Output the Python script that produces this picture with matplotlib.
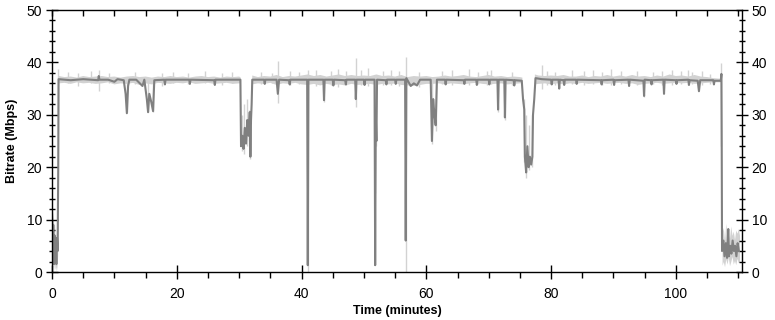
import numpy as np
import matplotlib
matplotlib.use("Agg")
import matplotlib.pyplot as plt
from matplotlib.ticker import MultipleLocator

# dark trace: (minutes, Mbps) breakpoints
line_t = [0.0, 0.1, 0.2, 0.3, 0.4, 0.5, 0.6, 0.7, 0.8, 0.9, 1.0, 1.05,
          3.0, 5.0, 7.4, 7.5, 7.6, 9.0, 10.0, 10.5, 11.5, 11.8, 12.0, 12.2, 12.4,
          13.5, 14.5, 14.8, 15.2, 15.4, 15.6, 15.9, 16.2, 16.4,
          18.0, 18.1, 18.2, 22.0, 22.1, 22.2, 26.0, 26.1, 26.2, 30.2,
          30.3, 30.5, 30.7, 30.9, 31.1, 31.3, 31.5, 31.7, 31.8, 31.9, 32.0, 32.1,
          34.0, 34.1, 34.2, 36.0, 36.2, 36.4, 38.0, 38.1, 38.2, 40.9, 41.0, 41.1,
          43.5, 43.6, 43.7, 45.0, 45.1, 45.2, 47.0, 47.1, 47.2, 48.6, 48.7, 48.8,
          50.0, 50.1, 50.2, 51.7, 51.8, 51.9, 52.0, 52.1, 53.5, 53.6, 53.7,
          55.0, 55.1, 55.2, 56.6, 56.7, 56.8, 57.5, 58.0, 58.5, 59.0,
          60.7, 60.9, 61.1, 61.3, 61.5, 61.7, 63.0, 63.1, 63.2, 66.0, 66.1, 66.2,
          68.0, 68.1, 68.2, 70.0, 70.1, 70.2, 71.4, 71.5, 71.6, 72.5, 72.6, 72.7,
          74.0, 74.1, 74.2, 75.3, 75.5, 75.7, 75.8, 76.0, 76.2, 76.4, 76.6, 76.8,
          77.0, 77.1, 77.3, 77.5, 78.5, 80.0, 80.1, 80.2, 81.2, 81.3, 81.4,
          82.0, 82.1, 82.2, 84.0, 84.1, 84.2, 88.0, 88.1, 88.2, 90.0, 90.1, 90.2,
          92.4, 92.5, 92.6, 94.8, 94.9, 95.0, 96.0, 96.1, 96.2, 98.0, 98.1, 98.2,
          100.0, 100.1, 100.2, 102.0, 102.1, 102.2, 103.5, 103.7, 103.9,
          106.0, 106.1, 106.2, 107.2, 107.3, 107.35, 107.4,
          107.6, 107.8, 108.0, 108.2, 108.4, 108.5, 108.7, 108.9, 109.1, 109.3,
          109.5, 109.7, 109.9, 110.1]
line_v = [11.5, 3.0, 9.0, 1.5, 7.0, 2.0, 5.5, 1.5, 6.5, 4.0, 20.0, 36.8,
          36.6, 36.8, 36.6, 37.4, 36.7, 36.7, 36.3, 36.8, 36.6, 34.0, 30.3, 35.5, 36.7,
          36.7, 35.5, 36.7, 33.0, 30.5, 34.0, 32.5, 30.7, 36.6,
          36.7, 35.8, 36.7, 36.7, 35.9, 36.7, 36.6, 35.7, 36.7, 36.7,
          24.0, 26.0, 23.5, 27.5, 24.5, 29.0, 26.0, 30.5, 22.0, 29.0, 32.0, 36.7,
          36.7, 35.9, 36.7, 36.7, 34.0, 36.7, 36.6, 35.8, 36.7, 36.7, 1.3, 36.7,
          36.7, 32.8, 36.7, 36.7, 35.6, 36.7, 36.6, 35.8, 36.7, 36.7, 33.0, 36.7,
          36.7, 35.7, 36.7, 36.7, 1.3, 30.0, 25.0, 36.7, 36.6, 35.8, 36.7,
          36.7, 35.9, 36.7, 36.7, 6.0, 37.0, 35.5, 36.0, 35.6, 36.7,
          36.7, 25.0, 33.0, 30.0, 28.0, 36.7, 36.7, 35.8, 36.7, 36.6, 35.9, 36.7,
          36.7, 35.7, 36.7, 36.7, 35.8, 36.7, 36.7, 31.0, 36.7, 36.7, 29.5, 36.7,
          36.6, 35.6, 36.6, 36.5, 33.0, 31.0, 22.0, 19.0, 24.0, 20.0, 22.0, 20.5,
          22.0, 30.0, 33.0, 37.0, 36.8, 36.7, 35.8, 36.7, 36.7, 35.0, 36.7,
          36.6, 35.7, 36.7, 36.7, 35.9, 36.7, 36.6, 35.8, 36.6, 36.7, 35.7, 36.6,
          36.7, 35.5, 36.7, 36.5, 33.6, 36.7, 36.6, 35.8, 36.6, 36.7, 34.0, 36.7,
          36.6, 35.9, 36.6, 36.7, 35.7, 36.6, 36.5, 34.5, 36.6,
          36.6, 35.8, 36.5, 36.5, 37.8, 24.0, 4.0,
          6.0, 3.0, 5.5, 2.7, 8.2, 3.0, 5.0, 3.5, 6.0, 4.0,
          5.0, 3.0, 5.5, 4.0]

# light band (spread of the raw samples) around the steady level
band_t = [1.1, 2, 3, 4, 5, 6, 7, 8, 9, 10,
          11, 12, 13, 14, 15, 16, 17, 18, 19, 20,
          21, 22, 23, 24, 25, 26, 27, 28, 29, 30, 30.25, 31,
          32.1, 33, 34, 35, 36, 37, 38, 39, 40,
          41, 42, 43, 44, 45, 46, 47, 48, 49, 50,
          51, 52, 53, 54, 55, 56, 57, 58, 59, 60,
          61, 62, 63, 64, 65, 66, 67, 68, 69, 70,
          71, 72, 73, 74, 75, 75.4, 76,
          77.4, 78, 79, 80,
          81, 82, 83, 84, 85, 86, 87, 88, 89, 90,
          91, 92, 93, 94, 95, 96, 97, 98, 99, 100,
          101, 102, 103, 104, 105, 106, 107, 107.25]
band_hi = [37.4, 37.2, 37.3, 37.1, 37.4, 37.2, 37.3, 37.4, 37.2, 37.3,
           37.1, 37.3, 37.4, 37.2, 37.3, 37.1, 37.3, 37.2, 37.4, 37.2,
           37.3, 37.1, 37.3, 37.4, 37.2, 37.3, 37.1, 37.3, 37.2, 37.3, 37.1, np.nan,
           37.5, 37.2, 37.4, 37.3, 37.6, 37.2, 37.4, 37.3, 37.5,
           37.7, 37.4, 37.6, 37.3, 37.5, 37.7, 37.4, 37.6, 37.4, 37.5,
           37.4, 37.7, 37.4, 37.5, 37.3, 37.6, 37.2, 37.4, 37.3, 37.4,
           37.2, 37.3, 37.5, 37.3, 37.4, 37.6, 37.3, 37.2, 37.4, 37.6,
           37.3, 37.4, 37.2, 37.3, 37.2, 37.1, np.nan,
           37.7, 37.5, 37.4, 37.5,
           37.4, 37.6, 37.3, 37.3, 37.5, 37.2, 37.4, 37.3, 37.6, 37.3,
           37.5, 37.3, 37.6, 37.3, 37.4, 37.2, 37.5, 37.3, 37.7, 37.4,
           37.5, 37.3, 37.6, 37.3, 37.2, 37.0, 36.9, 36.9]
band_lo = [36.0, 36.1, 35.9, 36.2, 36.0, 36.1, 35.9, 36.0, 36.2, 35.8,
           36.0, 35.9, 36.1, 35.7, 36.0, 35.8, 36.1, 36.0, 35.9, 36.1,
           36.0, 36.2, 35.9, 36.0, 36.1, 35.9, 36.0, 36.1, 35.9, 36.0, 36.0, np.nan,
           35.8, 36.0, 35.9, 36.1, 35.7, 36.0, 35.9, 36.1, 35.8,
           35.7, 35.9, 35.6, 35.9, 35.7, 35.8, 35.6, 35.9, 35.7, 35.8,
           35.9, 35.7, 35.9, 35.8, 36.0, 35.7, 35.6, 35.5, 35.7, 35.9,
           35.9, 36.0, 35.8, 36.0, 35.9, 35.8, 36.0, 36.1, 35.9, 35.8,
           35.9, 36.0, 35.8, 35.9, 36.0, 36.1, np.nan,
           35.8, 35.9, 36.0, 35.8,
           36.0, 35.8, 36.0, 35.9, 36.1, 35.9, 36.0, 36.1, 35.9, 36.0,
           36.1, 35.9, 36.0, 35.7, 35.9, 36.0, 36.1, 35.9, 36.0, 36.1,
           36.0, 36.1, 35.9, 36.0, 36.1, 36.2, 36.2, 36.2]

# light band at the start and at the end (low bitrate stretches)
start_t = [0.0, 0.1, 0.2, 0.3, 0.4, 0.5, 0.6, 0.7, 0.8, 0.9, 1.0]
start_hi = [12.8, 10.0, 11.5, 8.0, 9.5, 6.0, 7.5, 5.0, 8.0, 12.0, 30.0]
start_lo = [4.0, 0.5, 3.0, 0.3, 2.0, 0.5, 1.0, 0.2, 1.0, 3.0, 8.0]

end_t = [107.4, 107.6, 107.8, 108.0, 108.2, 108.4, 108.6, 108.8, 109.0,
         109.2, 109.4, 109.6, 109.8, 110.0, 110.2]
end_hi = [7.5, 8.5, 6.0, 9.3, 7.0, 8.0, 6.5, 8.8, 7.0, 7.8, 6.2, 8.0, 7.4, 8.3, 7.0]
end_lo = [1.3, 2.0, 1.0, 2.5, 1.5, 2.8, 1.2, 2.0, 3.0, 1.5, 2.2, 1.4, 2.6, 1.8, 2.0]

# light single-sample spikes: time, low end, high end
spike_t = [1.0, 2.5, 4.2, 6.3, 7.5, 9.1, 12.0, 13.3, 15.4, 16.2, 17.6, 19.4,
           21.8, 24.6, 27.3, 28.9, 30.4, 30.8, 31.2, 31.6, 31.8, 33.5, 35.2,
           36.2, 38.1, 39.6, 41.0, 42.3, 43.6, 44.8, 45.9, 47.2, 48.7, 49.5,
           50.6, 51.8, 52.0, 53.1, 54.4, 55.7, 56.7, 58.8, 60.9, 61.5, 62.5,
           64.1, 66.9, 68.3, 69.8, 70.4, 71.5, 72.6, 73.7, 75.7, 76.0, 76.5,
           77.0, 78.5, 79.3, 80.6, 83.4, 85.2, 86.7, 88.1, 89.6, 91.2, 93.8,
           94.9, 96.4, 97.7, 99.3, 100.8, 101.9, 102.6, 104.2, 105.5, 107.3]
spike_lo = [30.0, 36.0, 35.5, 36.0, 34.5, 36.0, 30.5, 35.8, 30.5, 30.5, 35.5, 36.0,
            35.8, 36.0, 35.7, 36.0, 23.0, 22.5, 24.0, 25.0, 21.5, 35.8, 36.0,
            32.2, 35.6, 35.8, 0.0, 35.5, 32.5, 35.6, 35.4, 35.7, 31.5, 35.6,
            35.5, 15.0, 24.0, 35.6, 35.7, 35.5, 0.0, 35.3, 24.5, 27.0, 35.8,
            35.6, 35.7, 35.9, 35.6, 35.8, 30.5, 29.0, 35.7, 21.0, 18.0, 19.5,
            20.0, 35.0, 35.7, 35.6, 35.8, 35.6, 35.8, 35.7, 35.6, 35.8, 35.7,
            33.4, 35.8, 35.6, 35.7, 35.8, 35.6, 35.8, 35.7, 35.9, 24.0]
spike_hi = [38.7, 38.2, 38.0, 38.3, 38.5, 38.0, 37.0, 38.1, 37.0, 37.0, 37.9, 38.2,
            38.0, 38.3, 37.9, 38.1, 30.0, 32.0, 33.0, 31.0, 30.0, 38.2, 38.0,
            40.3, 38.4, 38.1, 38.5, 38.6, 37.0, 38.3, 38.8, 38.4, 40.8, 38.5,
            38.9, 37.0, 37.0, 38.4, 38.6, 38.3, 41.0, 38.2, 37.0, 37.0, 38.3,
            38.5, 38.7, 38.2, 38.4, 38.6, 37.0, 37.0, 38.2, 33.0, 30.0, 28.0,
            30.0, 39.5, 38.4, 38.2, 38.6, 38.3, 38.5, 38.2, 38.7, 38.3, 38.4,
            37.0, 38.2, 38.4, 38.6, 38.3, 38.5, 38.2, 38.3, 37.8, 39.9]

dark = "#808080"
light = "#d2d2d2"

plt.rcParams['font.family'] = ['Liberation Sans', 'DejaVu Sans']

fig = plt.figure(figsize=(7.75, 3.2), dpi=100)
ax = fig.add_axes([52 / 775, 48 / 320, 690 / 775, 262 / 320])

ax.fill_between(band_t, band_lo, band_hi, color=light, lw=0)
ax.fill_between(start_t, start_lo, start_hi, color=light, lw=0)
ax.fill_between(end_t, end_lo, end_hi, color=light, lw=0)
ax.vlines(spike_t, spike_lo, spike_hi, color=light, lw=1)
ax.plot(line_t, line_v, color=dark, lw=1.5)

ax.set_xlim(0, 110.6)
ax.set_ylim(0, 50)
ax.xaxis.set_major_locator(MultipleLocator(20))
ax.xaxis.set_minor_locator(MultipleLocator(5))
ax.yaxis.set_major_locator(MultipleLocator(10))
ax.yaxis.set_minor_locator(MultipleLocator(2))

ax.tick_params(axis='y', which='major', direction='inout', length=8, width=1,
               left=True, right=True, labelleft=True, labelright=True,
               labelsize=10, pad=3)
ax.tick_params(axis='y', which='minor', direction='inout', length=5, width=1,
               left=True, right=True)
ax.tick_params(axis='x', which='major', direction='inout', length=10, width=1,
               labelsize=10, pad=6)
ax.tick_params(axis='x', which='minor', direction='out', length=4, width=1)
ax.tick_params(axis='x', which='both', top=True)

# ticks along the top edge point inward only
for tk in ax.xaxis.get_major_ticks() + ax.xaxis.get_minor_ticks():
    tk.tick2line.set_marker(3)
    tk.tick2line.set_markersize(4)

for s in ax.spines.values():
    s.set_linewidth(1)
    s.set_color("black")

ax.set_xlabel("Time (minutes)", fontsize=9, fontweight='bold', va='center')
ax.xaxis.set_label_coords(0.5, -0.149)
ax.set_ylabel("Bitrate (Mbps)", fontsize=9, fontweight='bold', labelpad=6)

fig.savefig("out.png", dpi=100)
